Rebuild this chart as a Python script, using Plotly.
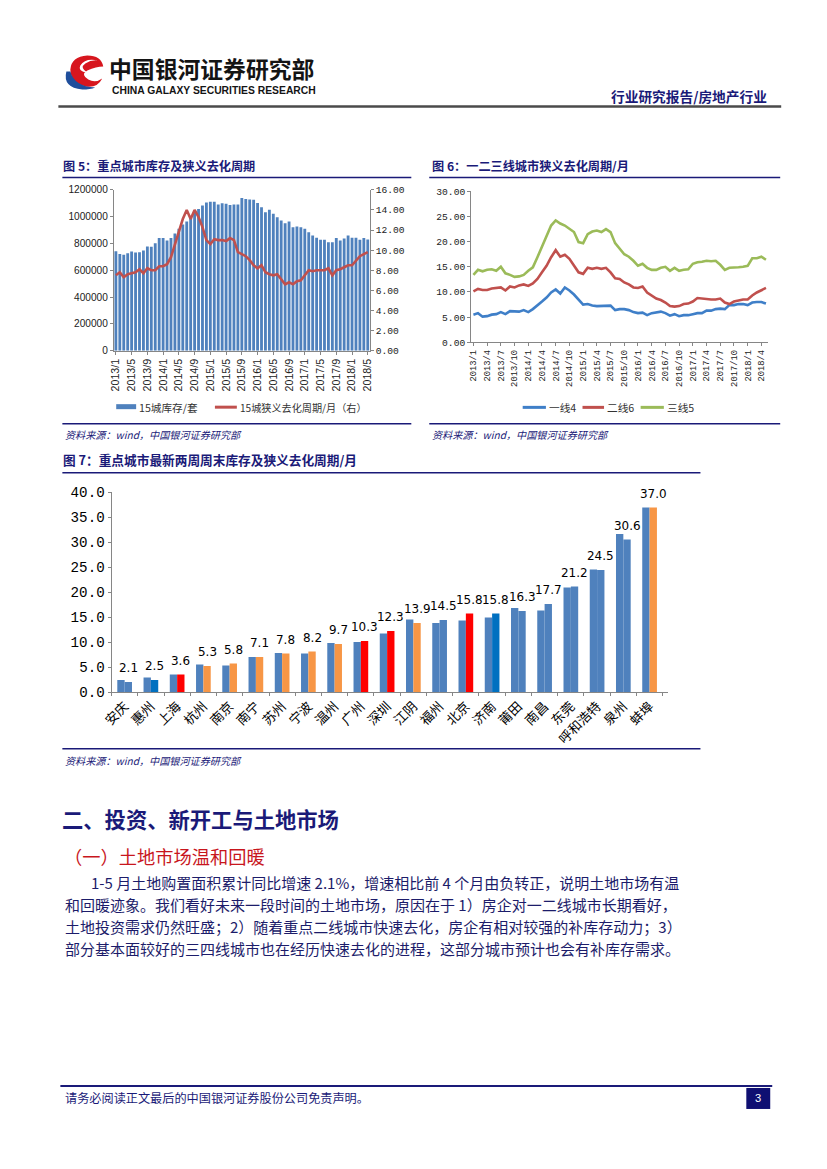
import plotly.graph_objects as go

# ---------------- data ----------------
fig5_ticklabels = ["2013/1", "2013/5", "2013/9", "2014/1", "2014/5", "2014/9", "2015/1", "2015/5",
                   "2015/9", "2016/1", "2016/5", "2016/9", "2017/1", "2017/5", "2017/9", "2018/1", "2018/5"]
inventory_15 = [742000, 722000, 715000, 727000, 740000, 732000, 735000, 747000, 777000, 775000, 802000, 840000,
                840000, 822000, 840000, 874000, 909000, 941000, 964000, 996000, 1033000, 1058000, 1083000, 1106000,
                1111000, 1111000, 1091000, 1101000, 1096000, 1088000, 1091000, 1091000, 1140000, 1131000, 1128000, 1126000,
                1103000, 1071000, 1033000, 1051000, 1021000, 996000, 971000, 951000, 964000, 921000, 927000, 921000,
                909000, 884000, 859000, 842000, 827000, 827000, 809000, 809000, 840000, 822000, 837000, 859000,
                842000, 842000, 827000, 840000, 830000]
cycle_15 = [7.5, 7.8, 7.3, 7.6, 7.7, 7.8, 8.1, 7.7, 8.2, 8.0, 8.0, 8.4,
            8.4, 8.6, 9.3, 10.5, 11.8, 13.1, 14.0, 13.1, 14.0, 13.3, 12.3, 11.0,
            10.6, 11.1, 11.0, 11.0, 10.9, 11.2, 11.0, 9.8, 9.6, 9.4, 9.0, 8.5,
            8.2, 8.5, 7.8, 7.6, 7.5, 7.6, 7.1, 6.6, 6.8, 6.6, 6.9, 7.0,
            7.5, 8.0, 7.9, 8.0, 8.0, 8.0, 8.2, 7.5, 8.0, 8.1, 8.3, 8.5,
            8.5, 9.0, 9.4, 9.6, 9.8]

fig6_ticklabels = ["2013/1", "2013/4", "2013/7", "2013/10", "2014/1", "2014/4", "2014/7", "2014/10",
                   "2015/1", "2015/4", "2015/7", "2015/10", "2016/1", "2016/4", "2016/7", "2016/10",
                   "2017/1", "2017/4", "2017/7", "2017/10", "2018/1", "2018/4"]
tier1 = [5.5, 5.8, 5.1, 5.2, 5.5, 5.6, 6.0, 5.6, 6.2, 6.1, 6.1, 6.4,
         6.0, 6.6, 7.3, 8.1, 8.9, 9.9, 10.5, 9.7, 10.9, 10.3, 9.5, 8.4,
         7.5, 7.6, 7.3, 7.2, 7.2, 7.3, 7.3, 6.4, 6.6, 6.6, 6.4, 6.0,
         5.8, 5.9, 5.4, 5.8, 6.0, 6.1, 5.8, 5.3, 5.6, 5.2, 5.4, 5.4,
         5.6, 5.8, 5.8, 6.3, 6.3, 6.6, 6.7, 6.6, 7.4, 7.4, 7.6, 7.6,
         7.4, 7.9, 8.0, 8.0, 7.7]
tier2 = [10.1, 10.6, 10.4, 10.4, 10.7, 10.8, 10.9, 10.3, 11.1, 10.9, 11.3, 11.5,
         11.2, 11.7, 12.6, 13.9, 15.2, 16.9, 18.3, 17.0, 17.4, 16.6, 15.2, 13.9,
         13.6, 14.8, 14.6, 14.8, 14.6, 14.8, 13.9, 12.7, 12.6, 11.9, 11.5, 10.9,
         10.8, 11.1, 9.9, 9.3, 8.7, 8.4, 7.9, 7.2, 7.1, 7.2, 7.6, 7.7,
         8.1, 8.8, 8.7, 8.5, 8.5, 8.5, 8.7, 7.9, 7.6, 8.1, 8.3, 8.5,
         8.5, 9.3, 9.9, 10.3, 10.8]
tier3 = [13.4, 14.4, 14.1, 14.4, 14.5, 14.2, 15.0, 13.7, 13.4, 13.0, 13.1, 13.4,
         14.2, 14.9, 16.9, 18.9, 20.9, 23.2, 24.2, 23.6, 23.2, 22.5, 21.9, 19.9,
         19.7, 21.5, 22.0, 22.2, 21.9, 22.5, 21.9, 19.7, 18.5, 17.5, 17.0, 16.2,
         15.2, 15.6, 14.8, 14.4, 14.4, 14.8, 15.0, 14.2, 14.8, 14.2, 14.4, 14.5,
         15.6, 15.9, 16.0, 16.2, 16.1, 16.2, 15.4, 14.4, 14.8, 14.8, 14.9, 15.0,
         15.2, 16.7, 16.7, 17.0, 16.4]

cities = ["安庆", "惠州", "上海", "杭州", "南京", "南宁", "苏州", "宁波", "温州", "广州", "深圳",
          "江阴", "福州", "北京", "济南", "莆田", "南昌", "东莞", "呼和浩特", "泉州", "蚌埠"]
prev_week = [2.5, 3.0, 3.6, 5.6, 5.4, 7.1, 7.9, 7.8, 9.9, 10.1, 11.8,
             14.6, 13.9, 14.4, 15.0, 16.9, 16.4, 21.0, 24.6, 31.7, 37.0]
latest_week = [2.1, 2.5, 3.6, 5.3, 5.8, 7.1, 7.8, 8.2, 9.7, 10.3, 12.3,
               13.9, 14.5, 15.8, 15.8, 16.3, 17.7, 21.2, 24.5, 30.6, 37.0]

# ---------------- styling ----------------
STEEL = "#4F81BD"
DBLUE = "#0070C0"
RED = "#FF0000"
ORANGE = "#F79646"
latest_colors = [STEEL, DBLUE, RED, ORANGE, ORANGE, ORANGE, ORANGE, ORANGE, ORANGE, RED, RED,
                 ORANGE, STEEL, RED, DBLUE, STEEL, STEEL, STEEL, STEEL, STEEL, ORANGE]
NAVY = "#1A1A78"
CJK = "Noto Sans CJK SC"
MONO = "Liberation Mono"
SANS = "Liberation Sans"
AX = "#868686"

# page-pixel -> figure mapping (compensates the page offset/scale of the capture)
S = 0.9857
CX, CY = 16.5, 14.5
W, H = 811, 1153


def px(x):
    return ((x - CX) / S) / W


def py(y):
    return 1 - ((y - CY) / S) / H


def fs(v):
    return v / S


idx = list(range(len(inventory_15)))

fig = go.Figure()

# Figure 5
fig.add_trace(go.Bar(x=idx, y=inventory_15, width=0.72, marker=dict(color=STEEL, line=dict(width=0)),
                     xaxis="x", yaxis="y", name="15城库存/套", showlegend=False))
fig.add_trace(go.Scatter(x=idx, y=cycle_15, mode="lines", line=dict(color="#C0504D", width=2.6),
                         xaxis="x", yaxis="y2", name="15城狭义去化周期/月(右)", showlegend=False))

# Figure 6
for series, color, nm in [(tier1, "#3F7FC8", "一线4"), (tier2, "#C0504D", "二线6"), (tier3, "#9BBB59", "三线5")]:
    fig.add_trace(go.Scatter(x=idx, y=series, mode="lines", line=dict(color=color, width=2.6),
                             xaxis="x2", yaxis="y3", name=nm, showlegend=False))

# Figure 7
fig.add_trace(go.Bar(x=cities, y=prev_week, offset=-0.28, width=0.28,
                     marker=dict(color=STEEL, line=dict(width=0)),
                     xaxis="x3", yaxis="y4", showlegend=False))
fig.add_trace(go.Bar(x=cities, y=latest_week, offset=0, width=0.28,
                     marker=dict(color=latest_colors, line=dict(width=0)),
                     xaxis="x3", yaxis="y4", showlegend=False))

axis_common = dict(showgrid=False, zeroline=False, showline=True, linecolor=AX, linewidth=1,
                   ticks="outside", tickcolor=AX, ticklen=3)

fig.update_layout(
    width=W, height=H, autosize=False,
    margin=dict(l=0, r=0, t=0, b=0, pad=0),
    paper_bgcolor="white", plot_bgcolor="white",
    barmode="overlay",
    xaxis=dict(domain=[px(111.7), px(368.3)], anchor="y", range=[-0.5, 64.5],
               tickmode="array", tickvals=list(range(0, 65, 4)), ticktext=fig5_ticklabels,
               tickangle=-90, tickfont=dict(family=SANS, size=fs(10.5), color="#222"), **axis_common),
    yaxis=dict(domain=[py(350), py(189.3)], anchor="x", range=[0, 1200000], dtick=200000,
               tickformat="d", tickfont=dict(family=SANS, size=fs(10), color="#222"), **axis_common),
    yaxis2=dict(overlaying="y", side="right", anchor="x", range=[0, 16], dtick=2, tickformat=".2f",
                tickfont=dict(family=MONO, size=fs(9.5), color="#222"), **axis_common),
    xaxis2=dict(domain=[px(470), px(768)], anchor="y3", range=[-0.5, 64.5],
                tickmode="array", tickvals=list(range(0, 64, 3)), ticktext=fig6_ticklabels,
                tickangle=-90, tickfont=dict(family=MONO, size=fs(8.7), color="#222"), **axis_common),
    yaxis3=dict(domain=[py(341.7), py(190.7)], anchor="x2", range=[0, 30], dtick=5, tickformat=".2f",
                tickfont=dict(family=MONO, size=fs(9.5), color="#222"), **axis_common),
    xaxis3=dict(domain=[px(109.3), px(667.3)], anchor="y4", type="category", tickson="boundaries",
                tickangle=-45, tickfont=dict(family=CJK, size=fs(13), color="#000"), **axis_common),
    yaxis4=dict(domain=[py(691.7), py(491.7)], anchor="x3", range=[0, 40], dtick=5, tickformat=".1f",
                tickfont=dict(family=MONO, size=fs(14), color="#000"), **axis_common),
)

shapes = []
annotations = []

# value labels of the latest week, placed through the chart's own axes
for city, val in zip(cities, latest_week):
    annotations.append(dict(xref="x3", yref="y4", x=city, y=val, text=f"{val:.1f}", showarrow=False,
                            xanchor="center", yanchor="middle", xshift=fs(3.7), yshift=fs(13.5),
                            borderpad=0, font=dict(family="DejaVu Sans", size=fs(11.8), color="#000")))


def hline(x0, x1, y, color=NAVY, width=1.5):
    shapes.append(dict(type="line", xref="paper", yref="paper", x0=px(x0), x1=px(x1), y0=py(y), y1=py(y),
                       line=dict(color=color, width=width)))


def rect(x0, y0, x1, y1, color):
    shapes.append(dict(type="rect", xref="paper", yref="paper", x0=px(x0), x1=px(x1), y0=py(y0), y1=py(y1),
                       fillcolor=color, line=dict(width=0)))


def text(x, y, s, size, color=NAVY, family=CJK, anchor="left", weight="normal", style="normal"):
    annotations.append(dict(xref="paper", yref="paper", x=px(x), y=py(y), text=s, showarrow=False,
                            xanchor=anchor, yanchor="middle", borderpad=0,
                            font=dict(family=family, size=fs(size), color=color, weight=weight, style=style)))


def path(pts_cmds):
    out = []
    for cmd, pts in pts_cmds:
        out.append(cmd + " " + " ".join(f"{px(x):.5f},{py(y):.5f}" for x, y in pts))
    return " ".join(out)


# Logo
shapes.append(dict(type="path", xref="paper", yref="paper",
                   path=path([("M", [(101, 66)]), ("Q", [(99, 55), (85, 55)]), ("Q", [(69, 56), (68, 69)]),
                              ("Q", [(68, 82), (83, 86)]), ("Q", [(95, 88), (100, 78)]),
                              ("Q", [(93, 83), (86, 79)]), ("Q", [(78, 74), (85, 70)]),
                              ("Q", [(94, 66), (101, 66)]), ("Z", [])]),
                   fillcolor="#D7161E", line=dict(width=0)))
shapes.append(dict(type="path", xref="paper", yref="paper",
                   path=path([("M", [(96, 60)]), ("Q", [(83, 57), (78, 65)]), ("Q", [(75, 71), (85, 72)]),
                              ("Q", [(77, 67), (83, 63)]), ("Q", [(89, 59), (96, 60)]), ("Z", [])]),
                   fillcolor="white", line=dict(width=0)))
shapes.append(dict(type="path", xref="paper", yref="paper",
                   path=path([("M", [(64, 71)]), ("Q", [(60, 87), (80, 89)]), ("Q", [(88, 89), (93, 87)]),
                              ("Q", [(72, 86), (68, 71)]), ("Z", [])]),
                   fillcolor="#1F4E9C", line=dict(width=0)))

text(106, 67.5, "中国银河证券研究部", 22.5, color="#141414", weight="bold")
text(109, 90, "CHINA GALAXY SECURITIES RESEARCH", 10.2, color="#141414", family=SANS, weight="bold")
text(768, 95, "行业研究报告/房地产行业", 13.5, anchor="right", weight="bold")
hline(56, 781, 106, color="#4A4A4A", width=2.5)

# Figure titles and rules
text(60, 165, "图 5：重点城市库存及狭义去化周期", 12, weight="bold")
hline(60, 410, 177)
text(430, 165, "图 6：一二三线城市狭义去化周期/月", 12, weight="bold")
hline(428, 780, 177)

# Legends fig 5
rect(114, 403.5, 134, 408.5, STEEL)
text(136, 406.5, "15城库存/套", 10.5, color="#333")
hline(213, 235, 406.5, color="#C0504D", width=3)
text(237, 406.5, "15城狭义去化周期/月（右）", 10, color="#333")
# Legends fig 6
for (x0, x1, tx, col, s) in [(521.7, 545, 547, "#3F7FC8", "一线4"), (581.7, 603.3, 605, "#C0504D", "二线6"),
                             (640, 663.3, 665, "#9BBB59", "三线5")]:
    hline(x0, x1, 406.7, color=col, width=3)
    text(tx, 406.7, s, 10.5, color="#333")

hline(60, 410, 423)
hline(428, 780, 423)
text(62, 434, "资料来源：wind，中国银河证券研究部", 10, style="italic")
text(430, 434, "资料来源：wind，中国银河证券研究部", 10, style="italic")

text(60, 459, "图 7：重点城市最新两周周末库存及狭义去化周期/月", 12.5, weight="bold")
hline(60, 700, 472)
hline(60, 700, 748)
text(62, 760, "资料来源：wind，中国银河证券研究部", 10, style="italic")

# Body text
text(59, 818, "二、投资、新开工与土地市场", 21, weight="bold")
text(61, 855, "（一）土地市场温和回暖", 18, color="#C8161D")
paragraph = [
    (88, 882, "1-5 月土地购置面积累计同比增速 2.1%，增速相比前 4 个月由负转正，说明土地市场有温"),
    (62, 904, "和回暖迹象。我们看好未来一段时间的土地市场，原因在于 1）房企对一二线城市长期看好，"),
    (62, 926, "土地投资需求仍然旺盛；2）随着重点二线城市快速去化，房企有相对较强的补库存动力；3）"),
    (62, 947.5, "部分基本面较好的三四线城市也在经历快速去化的进程，这部分城市预计也会有补库存需求。"),
]
for x, y, s in paragraph:
    text(x, y, s, 14.8, color="#1C1C6A")

# Footer
hline(58, 772, 1085, width=2)
text(62, 1097, "请务必阅读正文最后的中国银河证券股份公司免责声明。", 12)
rect(746, 1087, 770, 1108, "#0F0F72")
text(758, 1097.5, "3", 11, color="white", family=SANS, anchor="center")

fig.update_layout(shapes=shapes, annotations=annotations)
fig.write_html("out.html")
